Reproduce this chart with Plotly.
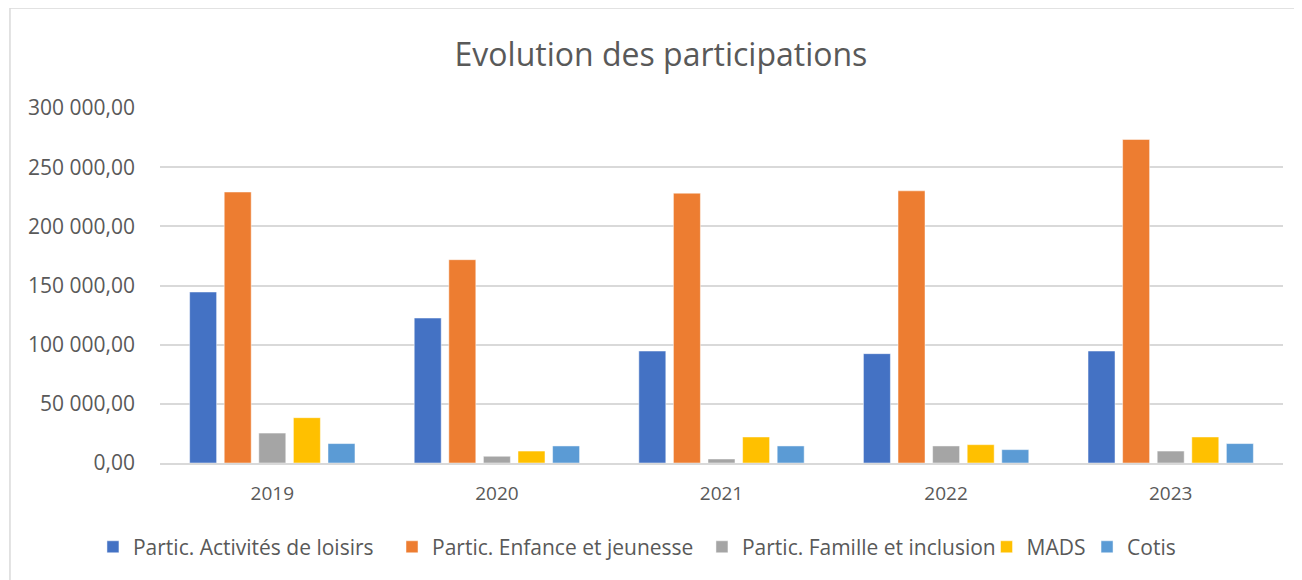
import plotly.graph_objects as go

# Data
years = ["2019", "2020", "2021", "2022", "2023"]
loisirs = [144500, 122500, 94600, 92400, 94600]
enfance = [229000, 171800, 228000, 230000, 273400]
famille = [25300, 5700, 3400, 14400, 10100]
mads = [38300, 10100, 22000, 15500, 22000]
cotis = [16400, 14400, 14400, 11300, 16400]

series_names = ["Partic. Activités de loisirs", "Partic. Enfance et jeunesse",
                "Partic. Famille et inclusion", "MADS", "Cotis"]
series_values = [loisirs, enfance, famille, mads, cotis]
colors = ["#4472C4", "#ED7D31", "#A5A5A5", "#FFC000", "#5B9BD5"]

text_color = "#595959"
grid_color = "#d9d9d9"
font_family = "Open Sans, Noto Sans, sans-serif"

# one legend per series so each entry sits where Excel put it
legend_ids = ["legend", "legend2", "legend3", "legend4", "legend5"]
legend_x = [-0.0597, 0.2066, 0.4826, 0.7360, 0.8255]

fig = go.Figure()
for name, vals, col, lg in zip(series_names, series_values, colors, legend_ids):
    fig.add_trace(go.Bar(
        x=years, y=vals, name=name, legend=lg,
        marker=dict(color=col, line=dict(color="rgba(255,255,255,0.6)", width=0.8)),
    ))

# the page body adds 8px margin, margins are shifted to compensate
fig.update_layout(
    width=1302, height=580,
    paper_bgcolor="white", plot_bgcolor="white",
    margin=dict(l=152, r=27, t=100, b=125),
    separators=", ",
    font=dict(family=font_family, color=text_color, size=21),
    title=dict(text="Evolution des participations", xref="container", x=0.5015,
               xanchor="center", y=0.919, yanchor="middle",
               font=dict(size=32, color=text_color, family=font_family)),
    barmode="group", bargap=0.23, bargroupgap=0.22,
    showlegend=True,
)
for lg, lx in zip(legend_ids, legend_x):
    fig.update_layout({lg: dict(orientation="h", x=lx, xanchor="left", y=-0.237,
                                yanchor="middle", font=dict(size=21, color=text_color),
                                bgcolor="rgba(0,0,0,0)")})

fig.update_yaxes(range=[0, 300000], dtick=50000, tickformat=",.2f",
                 showgrid=True, gridcolor=grid_color, gridwidth=1.5,
                 zeroline=False, showline=False,
                 ticks="", ticklabelstandoff=24,
                 tickfont=dict(size=21, color=text_color))
fig.update_xaxes(showline=True, linecolor=grid_color, linewidth=1.5,
                 ticks="", ticklabelstandoff=12,
                 tickfont=dict(size=19, color=text_color))

# chart area frame (top and left edges visible in the crop)
fig.add_shape(type="line", xref="paper", yref="paper",
              x0=-0.1336, x1=1.1, y0=1.282, y1=1.282,
              line=dict(color=grid_color, width=1.5))
fig.add_shape(type="line", xref="paper", yref="paper",
              x0=-0.1336, x1=-0.1336, y0=1.282, y1=-0.4,
              line=dict(color=grid_color, width=1.5))

fig.write_html("out.html")
